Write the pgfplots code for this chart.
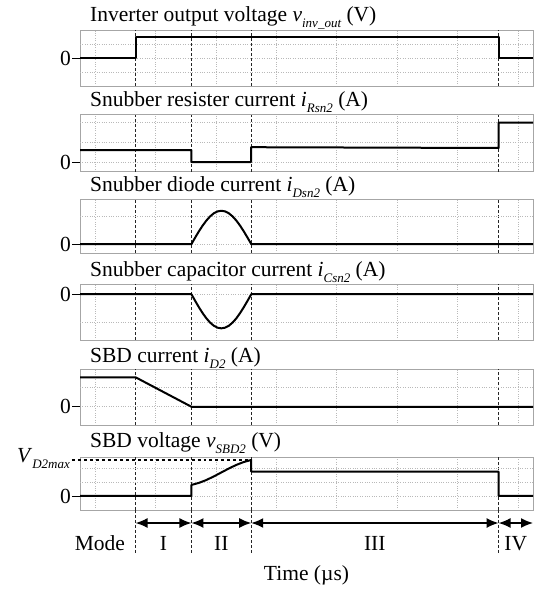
\documentclass[border=0pt]{standalone}
\usepackage{fontspec}
\setmainfont{Liberation Serif}
\usepackage{pgfplots}
\pgfplotsset{compat=1.18}
\usetikzlibrary{arrows.meta}

\newcommand{\sub}[1]{\raisebox{-0.28em}{\fontsize{13bp}{13bp}\selectfont\itshape #1}}
\newcommand{\tsize}{\fontsize{21.5bp}{24bp}\selectfont}

\tikzset{
 sig/.style={black, line width=2bp, line join=round},
 modeline/.style={densely dashed, gray!30!black, line width=1.1bp},
 modearrow/.style={{Latex[length=12bp,width=10bp]}-{Latex[length=12bp,width=10bp]}, line width=1.5bp},
}

\pgfplotsset{
 panel/.style={
  scale only axis, width=453bp, anchor=north west,
  xmin=-0.25, xmax=7.25,
  xtick={0,...,7}, xticklabels={},
  xmajorgrids, ymajorgrids,
  major grid style={dotted, gray!55, line width=0.6bp},
  ytick={0}, yticklabels={0}, ytick pos=left,
  tick align=outside,
  major tick length=8bp,
  xtick style={draw=none},
  ytick style={black, line width=0.8bp},
  axis line style={gray!70, line width=0.8bp},
  tick label style={font=\tsize},
  /pgf/number format/assume math mode=true,
  yticklabel style={inner sep=1bp},
  extra x ticks={0.67,1.595,2.585,6.68},
  extra x tick labels={},
  extra x tick style={grid=major, major grid style={densely dashed, gray!30!black, line width=1.1bp}, major tick length=0},
  extra y tick labels={},
  extra y tick style={major tick length=0},
  clip=false,
 },
}

\begin{document}
\begin{tikzpicture}
\useasboundingbox (0,0) rectangle (538bp,-589bp);

% titles
\node[anchor=base west, inner sep=0, font=\tsize] at (90bp,-21bp) {Inverter output voltage \textit{v}\sub{inv\_out} (V)};
\node[anchor=base west, inner sep=0, font=\tsize] at (90bp,-106.5bp) {Snubber resister current \textit{i}\sub{Rsn2} (A)};
\node[anchor=base west, inner sep=0, font=\tsize] at (90bp,-191.5bp) {Snubber diode current \textit{i}\sub{Dsn2} (A)};
\node[anchor=base west, inner sep=0, font=\tsize] at (90bp,-276.5bp) {Snubber capacitor current \textit{i}\sub{Csn2} (A)};
\node[anchor=base west, inner sep=0, font=\tsize] at (90bp,-362.5bp) {SBD current \textit{i}\sub{D2} (A)};
\node[anchor=base west, inner sep=0, font=\tsize] at (90bp,-447bp) {SBD voltage \textit{v}\sub{SBD2} (V)};

% Panel 1
\begin{axis}[panel, at={(80bp,-30bp)}, height=56bp, ymin=-2, ymax=2, extra y ticks={-1,1}]
\addplot[sig] coordinates {(-0.25,0) (0.67,0) (0.67,1.5) (6.68,1.5) (6.68,0) (7.25,0)};
\end{axis}

% Panel 2
\begin{axis}[panel, at={(80bp,-114.5bp)}, height=57bp, ymin=-0.475, ymax=2.375, extra y ticks={1,2}]
\addplot[sig] coordinates {(-0.25,0.6) (1.595,0.6) (1.595,0) (2.585,0) (2.585,0.74) (6.68,0.70) (6.68,1.97) (7.25,1.97)};
\end{axis}

% Panel 3
\begin{axis}[panel, at={(80bp,-199bp)}, height=54bp, ymin=-0.32, ymax=1.61, extra y ticks={1}]
\addplot[sig] coordinates {(-0.25,0) (1.595,0) (1.657,0.232) (1.719,0.456) (1.781,0.662) (1.843,0.841) (1.904,0.989) (1.966,1.10) (2.028,1.167) (2.09,1.19) (2.152,1.167) (2.214,1.10) (2.276,0.989) (2.338,0.841) (2.399,0.662) (2.461,0.456) (2.523,0.232) (2.585,0) (7.25,0)};
\end{axis}

% Panel 4
\begin{axis}[panel, at={(80bp,-284bp)}, height=56bp, ymin=-1.61, ymax=0.36, extra y ticks={-1}]
\addplot[sig] coordinates {(-0.25,0) (1.595,0) (1.657,-0.234) (1.719,-0.459) (1.781,-0.667) (1.843,-0.849) (1.904,-0.997) (1.966,-1.109) (2.028,-1.177) (2.09,-1.2) (2.152,-1.177) (2.214,-1.109) (2.276,-0.997) (2.338,-0.849) (2.399,-0.667) (2.461,-0.459) (2.523,-0.234) (2.585,0) (7.25,0)};
\end{axis}

% Panel 5
\begin{axis}[panel, at={(80bp,-369.3bp)}, height=55.7bp, ymin=-0.96, ymax=1.97, extra y ticks={1}]
\addplot[sig] coordinates {(-0.25,1.55) (0.67,1.55) (1.595,0) (7.25,0)};
\end{axis}

% Panel 6
\begin{axis}[panel, at={(80bp,-457.3bp)}, height=52.7bp, ymin=-1, ymax=2.76, extra y ticks={1,2}]
\addplot[sig] coordinates {(-0.25,0) (1.595,0) (1.595,0.79) (1.719,0.935) (1.843,1.142) (1.966,1.399) (2.09,1.68) (2.214,1.961) (2.338,2.218) (2.461,2.424) (2.585,2.57) (2.585,1.74) (6.68,1.74) (6.68,0) (7.25,0)};
\draw[black, dashed, line width=1.3bp] ([xshift=-8bp]axis cs:-0.25,2.57) -- (axis cs:2.585,2.57);
\node[anchor=base east, inner sep=0, font=\tsize] at ([xshift=-10bp,yshift=-3bp]axis cs:-0.25,2.57) {\textit{V}\sub{D2max}};
% mode lines
\draw[modeline] (axis cs:0.67,-1) -- ([yshift=-43bp]axis cs:0.67,-1);
\draw[modeline] (axis cs:1.595,-1) -- ([yshift=-43bp]axis cs:1.595,-1);
\draw[modeline] (axis cs:2.585,-1) -- ([yshift=-43bp]axis cs:2.585,-1);
\draw[modeline] (axis cs:6.68,-1) -- ([yshift=-43bp]axis cs:6.68,-1);
% arrows
\draw[modearrow] ([yshift=-13bp]axis cs:0.67,-1) -- ([yshift=-13bp]axis cs:1.595,-1);
\draw[modearrow] ([yshift=-13bp]axis cs:1.595,-1) -- ([yshift=-13bp]axis cs:2.585,-1);
\draw[modearrow] ([yshift=-13bp]axis cs:2.585,-1) -- ([yshift=-13bp]axis cs:6.68,-1);
\draw[modearrow] ([yshift=-13bp]axis cs:6.68,-1) -- ([yshift=-13bp]axis cs:7.25,-1);
% labels
\node[anchor=base, inner sep=0, font=\tsize] at ([yshift=-40bp]axis cs:0.08,-1) {Mode};
\node[anchor=base, inner sep=0, font=\tsize] at ([yshift=-40bp]axis cs:1.13,-1) {I};
\node[anchor=base, inner sep=0, font=\tsize] at ([yshift=-40bp]axis cs:2.09,-1) {II};
\node[anchor=base, inner sep=0, font=\tsize] at ([yshift=-40bp]axis cs:4.63,-1) {III};
\node[anchor=base, inner sep=0, font=\tsize] at ([yshift=-40bp]axis cs:6.965,-1) {IV};
\node[anchor=base, inner sep=0, font=\tsize] at ([yshift=-70bp]axis cs:3.5,-1) {Time (µs)};
\end{axis}
\end{tikzpicture}
\end{document}
